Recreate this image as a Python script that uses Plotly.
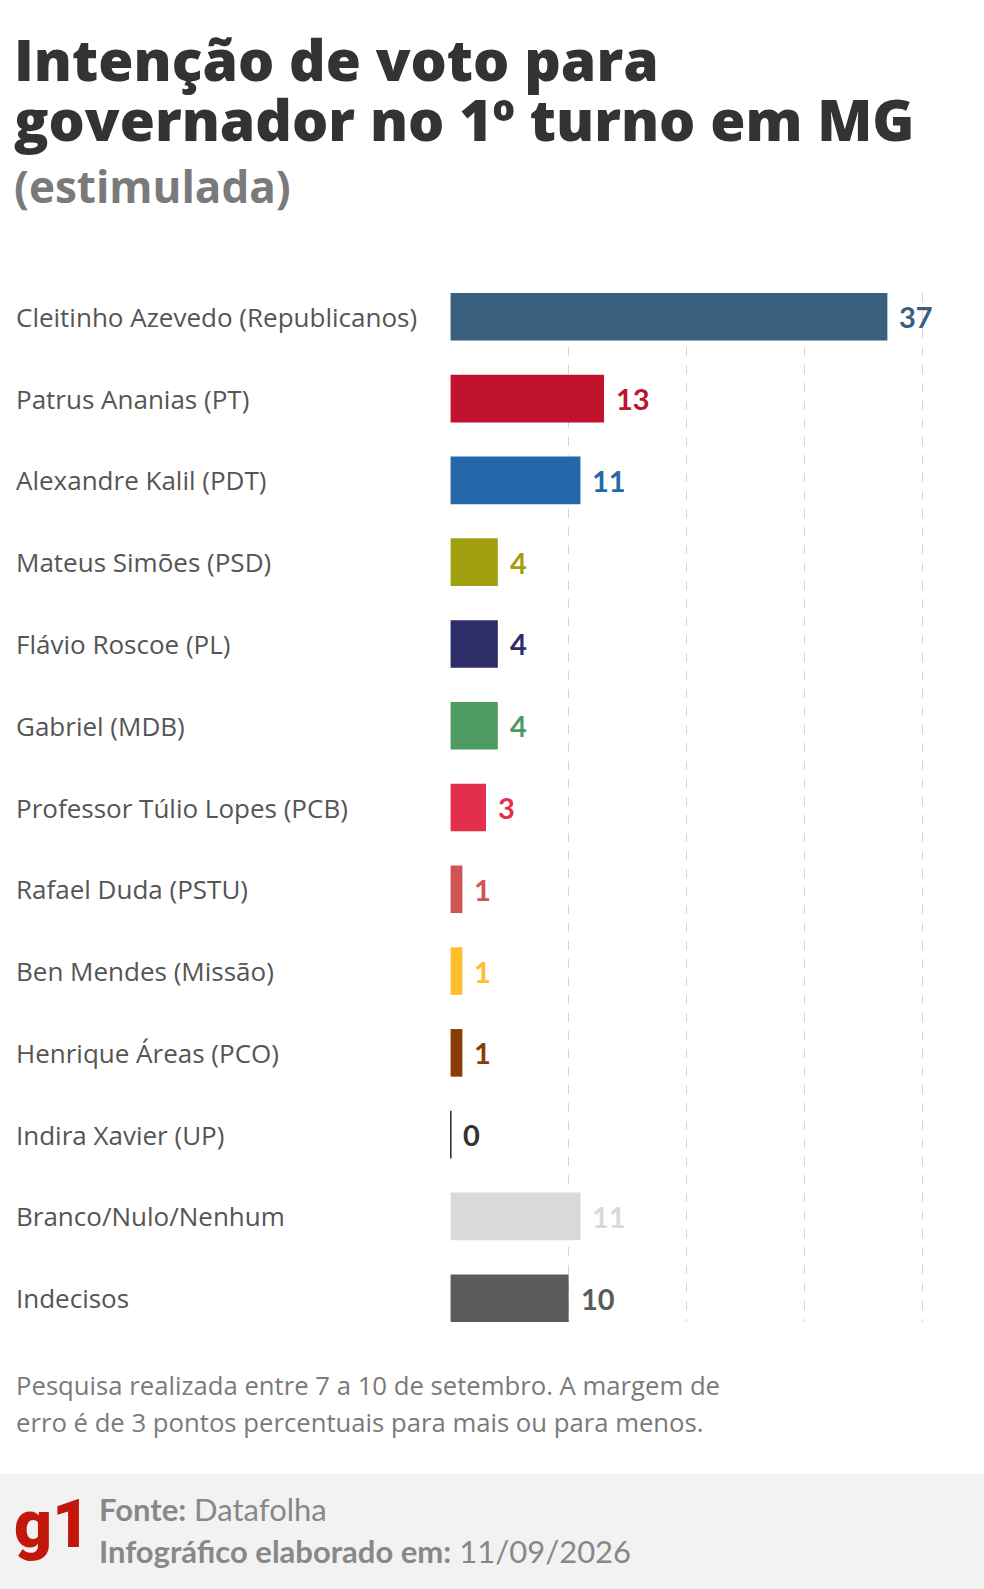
import plotly.graph_objects as go

W, H = 984, 1589

categories = [
    "Cleitinho Azevedo (Republicanos)", "Patrus Ananias (PT)", "Alexandre Kalil (PDT)",
    "Mateus Simões (PSD)", "Flávio Roscoe (PL)", "Gabriel (MDB)",
    "Professor Túlio Lopes (PCB)", "Rafael Duda (PSTU)", "Ben Mendes (Missão)",
    "Henrique Áreas (PCO)", "Indira Xavier (UP)", "Branco/Nulo/Nenhum", "Indecisos",
]
values = [37, 13, 11, 4, 4, 4, 3, 1, 1, 1, 0, 11, 10]
bar_colors = ["#395e7e", "#c0112d", "#2468aa", "#a0a00e", "#2d2d6a", "#4f9a62",
              "#e3304a", "#d05454", "#fcbe2c", "#8a3c06", "#333333", "#d9d9d9", "#5b5b5b"]
label_colors = ["#395e7e", "#c0112d", "#2468aa", "#a0a00e", "#2d2d6a", "#4f9a62",
                "#e3304a", "#d05454", "#fcbe2c", "#8a3c06", "#333333", "#d9d9d9", "#5b5b5b"]
x_ticks = [0, 10, 20, 30, 40]

title_l1 = "Intenção de voto para"
title_l2 = "governador no 1º turno em MG"
subtitle = "(estimulada)"
note_l1 = "Pesquisa realizada entre 7 a 10 de setembro. A margem de"
note_l2 = "erro é de 3 pontos percentuais para mais ou para menos."
source = "<b>Fonte:</b> Datafolha"
made = "<b>Infográfico elaborado em:</b> 11/09/2026"

L, R, T, B = 450, 14, 293, 267
PW, PH = W - L - R, H - T - B
n = len(categories)
ypos = list(range(n))
half = 0.291


def px(x):
    return (x - L) / PW


def py(y):
    return (H - B - y) / PH


fig = go.Figure()
fig.add_trace(go.Bar(
    x=values, y=ypos, orientation="h", marker=dict(color=bar_colors, line_width=0),
    width=2 * half, hoverinfo="skip",
))

annotations = []
for i, (c, v, lc) in enumerate(zip(categories, values, label_colors)):
    annotations.append(dict(x=px(14), xref="paper", y=i, yref="y", text=c, showarrow=False,
                            xanchor="left", yanchor="middle",
                            font=dict(family="Open Sans", size=26, color="#555555")))
    annotations.append(dict(x=v, xref="x", y=i, yref="y", text=f"<b>{v}</b>", showarrow=False,
                            xanchor="left", yanchor="middle", xshift=10,
                            font=dict(family="Lato", size=29, color=lc)))

annotations += [
    dict(x=px(12), y=py(59), xref="paper", yref="paper", text=title_l1, showarrow=False,
         xanchor="left", yanchor="middle", font=dict(family="Open Sans", size=57, color="#333333", weight=800)),
    dict(x=px(12), y=py(119), xref="paper", yref="paper", text=title_l2, showarrow=False,
         xanchor="left", yanchor="middle", font=dict(family="Open Sans", size=57, color="#333333", weight=800)),
    dict(x=px(12), y=py(186), xref="paper", yref="paper", text=subtitle, showarrow=False,
         xanchor="left", yanchor="middle", font=dict(family="Open Sans", size=44, color="#7a7a7a", weight=700)),
    dict(x=px(14), y=py(1385), xref="paper", yref="paper", text=note_l1, showarrow=False,
         xanchor="left", yanchor="middle", font=dict(family="Open Sans", size=25.7, color="#7a7a7a")),
    dict(x=px(14), y=py(1422), xref="paper", yref="paper", text=note_l2, showarrow=False,
         xanchor="left", yanchor="middle", font=dict(family="Open Sans", size=25.7, color="#7a7a7a")),
    dict(x=px(12), y=py(1524), xref="paper", yref="paper", text="g1", showarrow=False,
         xanchor="left", yanchor="middle",
         font=dict(family="Roboto", size=66, color="#c4170c", weight=900)),
    dict(x=px(97), y=py(1509), xref="paper", yref="paper", text=source, showarrow=False,
         xanchor="left", yanchor="middle", font=dict(family="Lato", size=31, color="#888888")),
    dict(x=px(97), y=py(1551), xref="paper", yref="paper", text=made, showarrow=False,
         xanchor="left", yanchor="middle", font=dict(family="Lato", size=31, color="#888888")),
]

shapes = [
    dict(type="rect", xref="paper", yref="paper", x0=px(0), x1=px(W), y0=py(1474), y1=py(H),
         fillcolor="#f2f2f2", line_width=0, layer="below"),
    # zero-value bar marker for Indira Xavier
    dict(type="line", xref="x", yref="y", x0=0, x1=0, y0=10 - half, y1=10 + half,
         line=dict(color="#333333", width=2)),
]

fig.update_layout(
    width=W, height=H, margin=dict(l=L, r=R, t=T, b=B),
    paper_bgcolor="white", plot_bgcolor="white", showlegend=False,
    xaxis=dict(range=[-0.05, 44], tickvals=x_ticks, showticklabels=False, showgrid=True,
               gridcolor="#d4d4d4", griddash="dash", gridwidth=1, zeroline=False, showline=False),
    yaxis=dict(range=[n - 1 + half, -half], showticklabels=False, showgrid=False, zeroline=False),
    annotations=annotations, shapes=shapes,
)

fig.write_html("out.html", config={"displayModeBar": False},
               post_script="document.body.style.margin='0';")
